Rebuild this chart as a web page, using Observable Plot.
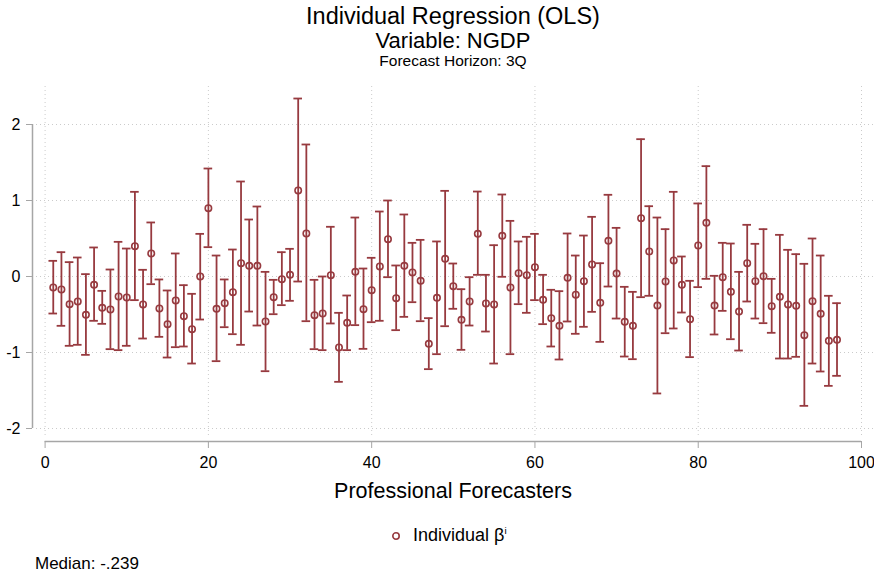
<!DOCTYPE html>
<html>
<head>
<meta charset="utf-8">
<script src="https://cdn.jsdelivr.net/npm/d3@7"></script>
<script src="https://cdn.jsdelivr.net/npm/@observablehq/plot@0.6"></script>
<style>
  body { margin: 0; background: #fff; color: #000; font-family: "Liberation Sans", Arial, Helvetica, sans-serif; }
  #wrap { width: 874px; overflow: hidden; }
  .block { position: relative; width: 874px; }
  .block > div { position: absolute; line-height: 1; white-space: nowrap; }
  .hdr > div { left: 32px; width: 842px; text-align: center; }
  #chart svg { display: block; }
  sup { font-size: 0.55em; vertical-align: 0.75em; line-height: 0; }
</style>
</head>
<body>
<div id="wrap">
  <div class="block hdr" style="height:78px">
    <div style="top:5px;font-size:23.5px">Individual Regression (OLS)</div>
    <div style="top:30px;font-size:22px">Variable: NGDP</div>
    <div style="top:52.5px;font-size:15.5px">Forecast Horizon: 3Q</div>
  </div>
  <div id="chart"></div>
  <div class="block" id="legend" style="height:40px">
    <div style="left:391px;top:16px"><svg width="10" height="10"><circle cx="5" cy="5" r="3.2" fill="none" stroke="#973a3f" stroke-width="1.6"/></svg></div>
    <div style="left:413px;top:13.8px;font-size:18px">Individual β<sup>i</sup></div>
  </div>
  <div class="block" style="height:20px">
    <div style="left:35px;top:2.6px;font-size:17px">Median: -.239</div>
  </div>
</div>
<script>
// Individual OLS slope estimates per professional forecaster, with 95% CI bounds
const beta = [
  -0.145, -0.171, -0.364, -0.329, -0.504, -0.110, -0.412, -0.434, -0.263, -0.276,
   0.399, -0.368,  0.303, -0.421, -0.627, -0.316, -0.522, -0.693,  0.000,  0.899,
  -0.425, -0.351, -0.206,  0.175,  0.140,  0.140, -0.592, -0.272, -0.035,  0.022,
   1.132,  0.566, -0.509, -0.487,  0.018, -0.934, -0.610,  0.061, -0.430, -0.180,
   0.132,  0.491, -0.285,  0.140,  0.053, -0.057, -0.886, -0.281,  0.232, -0.127,
  -0.570, -0.329,  0.561, -0.355, -0.368,  0.535, -0.145,  0.044,  0.018,  0.123,
  -0.307, -0.548, -0.649, -0.018, -0.239, -0.061,  0.158, -0.346,  0.469,  0.039,
  -0.596, -0.649,  0.768,  0.329, -0.382, -0.066,  0.211, -0.110, -0.561,  0.408,
   0.706, -0.382, -0.009, -0.202, -0.461,  0.175, -0.061,  0.004, -0.390, -0.268,
  -0.368, -0.386, -0.772, -0.325, -0.491, -0.846, -0.833
];
const ciHigh = [
   0.206,  0.320,  0.189,  0.250,  0.031,  0.382, -0.189,  0.092,  0.456,  0.368,
   1.114,  0.088,  0.711, -0.039, -0.184,  0.303, -0.114, -0.228,  0.561,  1.421,
   0.276, -0.039,  0.355,  1.250,  0.750,  0.921,  0.061, -0.044,  0.320,  0.364,
   2.342,  1.737, -0.044,  0.000,  0.654, -0.478, -0.250,  0.776,  0.105,  0.246,
   0.855,  1.000,  0.145,  0.816,  0.443,  0.482, -0.548,  0.461,  1.127,  0.171,
  -0.167, -0.009,  1.118,  0.022,  0.412,  1.079,  0.732,  0.461,  0.522,  0.561,
   0.022, -0.175, -0.193,  0.566,  0.276,  0.539,  0.785,  0.175,  1.075,  0.640,
  -0.136, -0.202,  1.807,  0.925,  0.776,  0.623,  1.114,  0.263, -0.057,  0.961,
   1.452,  0.009,  0.443,  0.434,  0.061,  0.680,  0.430,  0.623, -0.031,  0.548,
   0.351,  0.294,  0.167,  0.500,  0.276, -0.254, -0.351
];
const ciLow = [
  -0.487, -0.649, -0.912, -0.899, -1.031, -0.583, -0.623, -0.956, -0.969, -0.912,
  -0.311, -0.816, -0.101, -0.794, -1.066, -0.930, -0.921, -1.145, -0.566,  0.386,
  -1.114, -0.667, -0.759, -0.899, -0.461, -0.645, -1.246, -0.496, -0.377, -0.320,
  -0.066, -0.588, -0.956, -0.969, -0.618, -1.386, -0.969, -0.640, -0.952, -0.601,
  -0.583, -0.009, -0.706, -0.531, -0.338, -0.588, -1.219, -1.022, -0.654, -0.425,
  -0.965, -0.645,  0.022, -0.724, -1.145, -0.004, -1.022, -0.364, -0.478, -0.311,
  -0.627, -0.921, -1.092, -0.592, -0.754, -0.662, -0.465, -0.860, -0.132, -0.553,
  -1.053, -1.088, -0.272, -0.254, -1.539, -0.746, -0.684, -0.474, -1.061, -0.140,
  -0.031, -0.763, -0.452, -0.825, -0.974, -0.329, -0.553, -0.614, -0.741, -1.079,
  -1.079, -1.057, -1.702, -1.145, -1.250, -1.439, -1.307
];
const xTicks = [0, 20, 40, 60, 80, 100];
const yTicks = [-2, -1, 0, 1, 2];
const xTitle = "Professional Forecasters";

// forecaster ids run 1..N in the order of the estimates
const rows = beta.map((b, i) => ({id: i + 1, b, lo: ciLow[i], hi: ciHigh[i]}));

const red = "#973a3f";
const gridColor = "#cbcbcb";
const axisColor = "#a6a6a6";
const xRange = [44.6, 861];
const axisLeftPx = 32;

const chart = Plot.plot({
  width: 874,
  height: 434,
  marginLeft: axisLeftPx,
  marginRight: 1,
  marginTop: 8,
  marginBottom: 75,
  style: {fontFamily: "'Liberation Sans', Arial, sans-serif", fontSize: "16px", color: "#000", background: "#fff"},
  x: {domain: [xTicks[0], xTicks[xTicks.length - 1]], range: xRange},
  y: {domain: [yTicks[0], yTicks[yTicks.length - 1]], range: [350, 46]},
  marks: [
    // dotted grid
    Plot.ruleY(yTicks, {stroke: gridColor, strokeWidth: 1, strokeDasharray: "1 3", insetLeft: 4}),
    Plot.ruleX(xTicks, {stroke: gridColor, strokeWidth: 1, strokeDasharray: "1 3"}),
    // y axis
    Plot.ruleX([xTicks[0]], {y1: yTicks[0], y2: yTicks[yTicks.length - 1], dx: axisLeftPx - xRange[0], stroke: axisColor, strokeWidth: 1.5}),
    Plot.axisY(yTicks, {anchor: "left", tickSize: 6, tickPadding: 6, tickFormat: d => String(d), label: null, stroke: axisColor, fill: "#000", fontSize: 16}),
    // x axis
    Plot.ruleY([yTicks[0]], {x1: xTicks[0], x2: xTicks[xTicks.length - 1], dy: 13, stroke: axisColor, strokeWidth: 1.5}),
    Plot.axisX(xTicks, {anchor: "bottom", tickSize: 7, tickPadding: 8, dy: 4, tickFormat: d => String(d), label: null, stroke: axisColor, fill: "#000", fontSize: 16}),
    Plot.text([xTitle], {frameAnchor: "bottom", dy: 60, fontSize: 21.5, fill: "#000"}),
    // confidence intervals with caps
    Plot.ruleX(rows, {x: "id", y1: "lo", y2: "hi", stroke: red, strokeWidth: 1.8}),
    Plot.ruleY(rows, {y: "hi", x1: "id", x2: "id", insetLeft: -4.3, insetRight: -4.3, stroke: red, strokeWidth: 1.8}),
    Plot.ruleY(rows, {y: "lo", x1: "id", x2: "id", insetLeft: -4.3, insetRight: -4.3, stroke: red, strokeWidth: 1.8}),
    // point estimates
    Plot.dot(rows, {x: "id", y: "b", r: 3.2, stroke: red, strokeWidth: 1.6, fill: "none"})
  ]
});
document.getElementById("chart").appendChild(chart);
</script>
</body>
</html>
